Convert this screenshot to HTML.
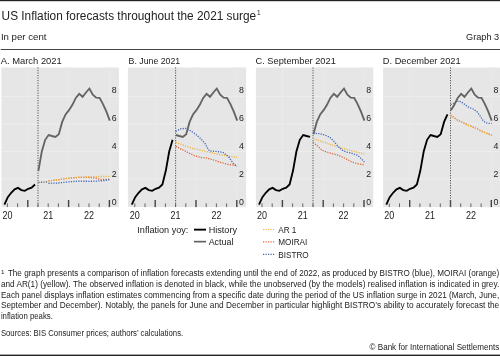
<!DOCTYPE html>
<html><head><meta charset="utf-8"><style>
html,body{margin:0;padding:0;background:#fff;width:500px;height:356px;overflow:hidden}
svg{display:block;font-family:"Liberation Sans", sans-serif;will-change:transform}
</style></head><body>
<svg width="500" height="356" viewBox="0 0 500 356">
<defs><clipPath id="c0"><rect x="1.4" y="67.5" width="117.5" height="139.6"/></clipPath><clipPath id="c1"><rect x="127.9" y="67.5" width="118.2" height="139.6"/></clipPath><clipPath id="c2"><rect x="255.9" y="67.5" width="117.4" height="139.6"/></clipPath><clipPath id="c3"><rect x="383.1" y="67.5" width="117.9" height="139.6"/></clipPath></defs>
<rect x="0" y="0" width="500" height="1.2" fill="#222"/>
<rect x="0.7" y="49" width="499.3" height="1" fill="#444"/>
<rect x="0" y="354.6" width="500" height="1.4" fill="#222"/>
<text x="1.60" y="20.30" font-size="12" fill="#222" textLength="254.60" lengthAdjust="spacingAndGlyphs">US Inflation forecasts throughout the 2021 surge</text>
<text x="256.90" y="14.80" font-size="6.4" fill="#222">1</text>
<text x="0.90" y="39.90" font-size="9.8" fill="#222" textLength="45.60" lengthAdjust="spacingAndGlyphs">In per cent</text>
<text x="499.20" y="40.00" font-size="9.5" fill="#222" text-anchor="end" textLength="33.20" lengthAdjust="spacingAndGlyphs">Graph 3</text>
<text x="0.70" y="63.60" font-size="9.9" fill="#222" textLength="61.10" lengthAdjust="spacingAndGlyphs">A. March 2021</text>
<g clip-path="url(#c0)">
<rect x="1.4" y="67.5" width="117.5" height="139.6" fill="#e6e6e6"/>
<rect x="1.4" y="178.50" width="117.5" height="1" fill="#ededed"/>
<rect x="1.4" y="151.00" width="117.5" height="1" fill="#ededed"/>
<rect x="1.4" y="123.50" width="117.5" height="1" fill="#ededed"/>
<rect x="1.4" y="96.00" width="117.5" height="1" fill="#ededed"/>
<rect x="27.30" y="67.5" width="1" height="139.6" fill="#eaeaea"/>
<rect x="68.10" y="67.5" width="1" height="139.6" fill="#eaeaea"/>
<rect x="108.90" y="67.5" width="1" height="139.6" fill="#eaeaea"/>
<rect x="-3.30" y="203.4" width="1" height="3.7" fill="#666"/>
<rect x="6.90" y="203.4" width="1" height="3.7" fill="#666"/>
<rect x="17.10" y="203.4" width="1" height="3.7" fill="#666"/>
<rect x="27.10" y="200" width="1.4" height="7.1" fill="#444"/>
<rect x="37.50" y="203.4" width="1" height="3.7" fill="#666"/>
<rect x="47.70" y="203.4" width="1" height="3.7" fill="#666"/>
<rect x="57.90" y="203.4" width="1" height="3.7" fill="#666"/>
<rect x="67.90" y="200" width="1.4" height="7.1" fill="#444"/>
<rect x="78.30" y="203.4" width="1" height="3.7" fill="#666"/>
<rect x="88.50" y="203.4" width="1" height="3.7" fill="#666"/>
<rect x="98.70" y="203.4" width="1" height="3.7" fill="#666"/>
<rect x="108.70" y="200" width="1.4" height="7.1" fill="#444"/>
<text x="111.70" y="204.50" font-size="9.5" fill="#222" textLength="4.90" lengthAdjust="spacingAndGlyphs">0</text>
<text x="111.70" y="176.64" font-size="9.5" fill="#222" textLength="4.90" lengthAdjust="spacingAndGlyphs">2</text>
<text x="111.70" y="148.78" font-size="9.5" fill="#222" textLength="4.90" lengthAdjust="spacingAndGlyphs">4</text>
<text x="111.70" y="120.92" font-size="9.5" fill="#222" textLength="4.90" lengthAdjust="spacingAndGlyphs">6</text>
<text x="111.70" y="93.06" font-size="9.5" fill="#222" textLength="4.90" lengthAdjust="spacingAndGlyphs">8</text>
<line x1="38.00" y1="67.5" x2="38.00" y2="207.1" stroke="#555" stroke-width="1" stroke-dasharray="1.2 1.3"/>
<polyline points="4.4,204.6 7.8,197.2 11.2,192.8 14.6,189.4 18.0,187.9 21.4,190.1 24.8,190.8 28.2,188.8 31.6,187.7 35.0,184.5" fill="none" stroke="#000" stroke-width="1.85" stroke-linejoin="miter"/>
<polyline points="38.4,170.8 41.8,151.5 45.2,139.8 48.6,135.0 52.0,136.0 55.4,136.9 58.8,134.2 62.2,121.9 65.6,114.4 69.0,110.2 72.4,104.8 75.8,97.9 79.2,93.8 82.6,96.8 86.0,92.5 89.4,88.5 92.8,94.7 96.2,97.6 99.6,97.9 103.0,104.1 106.4,111.6 109.8,120.6" fill="none" stroke="#646464" stroke-width="1.85" stroke-linejoin="miter"/>
<line x1="38.4" y1="182.4" x2="48.4" y2="181.8" stroke="#5a5a5a" stroke-width="1.3" stroke-dasharray="1.2 1.3"/>
<polyline points="48.4,180.8 58.4,179.7 65.6,178.6 72.8,177.9 80.0,177.3 90.0,177.5 96.0,178.2 101.2,179.5 109.8,179.3" fill="none" stroke="#df6434" stroke-width="1.3" stroke-dasharray="1.2 1.3"/>
<polyline points="48.4,180.8 58.4,179.7 65.6,178.6 72.8,177.9 80.0,177.2 90.0,176.7 100.0,176.5 109.8,176.4" fill="none" stroke="#efb23a" stroke-width="1.3" stroke-dasharray="1.2 1.3"/>
<polyline points="48.4,183.3 58.4,183.0 65.6,182.2 72.8,181.5 80.0,181.2 90.4,181.3 97.6,181.0 104.8,180.6 109.8,179.5" fill="none" stroke="#3f64b2" stroke-width="1.3" stroke-dasharray="1.2 1.3"/>
</g>
<text x="7.40" y="219.10" font-size="10.4" fill="#222" text-anchor="middle" textLength="10.00" lengthAdjust="spacingAndGlyphs">20</text>
<text x="48.20" y="219.10" font-size="10.4" fill="#222" text-anchor="middle" textLength="10.00" lengthAdjust="spacingAndGlyphs">21</text>
<text x="89.00" y="219.10" font-size="10.4" fill="#222" text-anchor="middle" textLength="10.00" lengthAdjust="spacingAndGlyphs">22</text>
<text x="128.60" y="63.60" font-size="9.9" fill="#222" textLength="51.60" lengthAdjust="spacingAndGlyphs">B. June 2021</text>
<g clip-path="url(#c1)">
<rect x="127.9" y="67.5" width="118.2" height="139.6" fill="#e6e6e6"/>
<rect x="127.9" y="178.50" width="118.2" height="1" fill="#ededed"/>
<rect x="127.9" y="151.00" width="118.2" height="1" fill="#ededed"/>
<rect x="127.9" y="123.50" width="118.2" height="1" fill="#ededed"/>
<rect x="127.9" y="96.00" width="118.2" height="1" fill="#ededed"/>
<rect x="154.70" y="67.5" width="1" height="139.6" fill="#eaeaea"/>
<rect x="195.50" y="67.5" width="1" height="139.6" fill="#eaeaea"/>
<rect x="236.30" y="67.5" width="1" height="139.6" fill="#eaeaea"/>
<rect x="124.10" y="203.4" width="1" height="3.7" fill="#666"/>
<rect x="134.30" y="203.4" width="1" height="3.7" fill="#666"/>
<rect x="144.50" y="203.4" width="1" height="3.7" fill="#666"/>
<rect x="154.50" y="200" width="1.4" height="7.1" fill="#444"/>
<rect x="164.90" y="203.4" width="1" height="3.7" fill="#666"/>
<rect x="175.10" y="203.4" width="1" height="3.7" fill="#666"/>
<rect x="185.30" y="203.4" width="1" height="3.7" fill="#666"/>
<rect x="195.30" y="200" width="1.4" height="7.1" fill="#444"/>
<rect x="205.70" y="203.4" width="1" height="3.7" fill="#666"/>
<rect x="215.90" y="203.4" width="1" height="3.7" fill="#666"/>
<rect x="226.10" y="203.4" width="1" height="3.7" fill="#666"/>
<rect x="236.10" y="200" width="1.4" height="7.1" fill="#444"/>
<text x="239.10" y="204.50" font-size="9.5" fill="#222" textLength="4.90" lengthAdjust="spacingAndGlyphs">0</text>
<text x="239.10" y="176.64" font-size="9.5" fill="#222" textLength="4.90" lengthAdjust="spacingAndGlyphs">2</text>
<text x="239.10" y="148.78" font-size="9.5" fill="#222" textLength="4.90" lengthAdjust="spacingAndGlyphs">4</text>
<text x="239.10" y="120.92" font-size="9.5" fill="#222" textLength="4.90" lengthAdjust="spacingAndGlyphs">6</text>
<text x="239.10" y="93.06" font-size="9.5" fill="#222" textLength="4.90" lengthAdjust="spacingAndGlyphs">8</text>
<line x1="175.60" y1="67.5" x2="175.60" y2="207.1" stroke="#555" stroke-width="1" stroke-dasharray="1.2 1.3"/>
<polyline points="131.8,204.6 135.2,197.2 138.6,192.8 142.0,189.4 145.4,187.9 148.8,190.1 152.2,190.8 155.6,188.8 159.0,187.7 162.4,184.5 165.8,170.8 169.2,151.5 172.6,139.8" fill="none" stroke="#000" stroke-width="1.85" stroke-linejoin="miter"/>
<polyline points="176.0,135.0 179.4,136.0 182.8,136.9 186.2,134.2 189.6,121.9 193.0,114.4 196.4,110.2 199.8,104.8 203.2,97.9 206.6,93.8 210.0,96.8 213.4,92.5 216.8,88.5 220.2,94.7 223.6,97.6 227.0,97.9 230.4,104.1 233.8,111.6 237.2,120.6" fill="none" stroke="#646464" stroke-width="1.85" stroke-linejoin="miter"/>
<polyline points="175.7,146.3 180.8,148.9 187.6,152.3 194.4,155.7 201.2,157.5 206.7,158.0 213.3,159.9 220.6,162.4 227.9,164.3 237.1,165.6" fill="none" stroke="#df6434" stroke-width="1.3" stroke-dasharray="1.2 1.3"/>
<polyline points="175.7,142.2 184.2,145.5 194.4,148.9 206.7,151.6 220.6,154.8 237.1,157.4" fill="none" stroke="#efb23a" stroke-width="1.3" stroke-dasharray="1.2 1.3"/>
<polyline points="175.7,131.3 180.8,128.8 185.8,128.3 189.2,130.0 195.1,133.8 201.0,138.9 205.2,143.9 207.8,148.5 209.6,151.0 217.0,151.5 222.8,152.2 225.7,154.4 229.4,157.7 231.5,161.0 233.7,163.9 237.1,166.5" fill="none" stroke="#3f64b2" stroke-width="1.3" stroke-dasharray="1.2 1.3"/>
</g>
<text x="134.80" y="219.10" font-size="10.4" fill="#222" text-anchor="middle" textLength="10.00" lengthAdjust="spacingAndGlyphs">20</text>
<text x="175.60" y="219.10" font-size="10.4" fill="#222" text-anchor="middle" textLength="10.00" lengthAdjust="spacingAndGlyphs">21</text>
<text x="216.40" y="219.10" font-size="10.4" fill="#222" text-anchor="middle" textLength="10.00" lengthAdjust="spacingAndGlyphs">22</text>
<text x="255.50" y="63.60" font-size="9.9" fill="#222" textLength="80.30" lengthAdjust="spacingAndGlyphs">C. September 2021</text>
<g clip-path="url(#c2)">
<rect x="255.9" y="67.5" width="117.4" height="139.6" fill="#e6e6e6"/>
<rect x="255.9" y="178.50" width="117.4" height="1" fill="#ededed"/>
<rect x="255.9" y="151.00" width="117.4" height="1" fill="#ededed"/>
<rect x="255.9" y="123.50" width="117.4" height="1" fill="#ededed"/>
<rect x="255.9" y="96.00" width="117.4" height="1" fill="#ededed"/>
<rect x="281.90" y="67.5" width="1" height="139.6" fill="#eaeaea"/>
<rect x="322.70" y="67.5" width="1" height="139.6" fill="#eaeaea"/>
<rect x="363.50" y="67.5" width="1" height="139.6" fill="#eaeaea"/>
<rect x="251.30" y="203.4" width="1" height="3.7" fill="#666"/>
<rect x="261.50" y="203.4" width="1" height="3.7" fill="#666"/>
<rect x="271.70" y="203.4" width="1" height="3.7" fill="#666"/>
<rect x="281.70" y="200" width="1.4" height="7.1" fill="#444"/>
<rect x="292.10" y="203.4" width="1" height="3.7" fill="#666"/>
<rect x="302.30" y="203.4" width="1" height="3.7" fill="#666"/>
<rect x="312.50" y="203.4" width="1" height="3.7" fill="#666"/>
<rect x="322.50" y="200" width="1.4" height="7.1" fill="#444"/>
<rect x="332.90" y="203.4" width="1" height="3.7" fill="#666"/>
<rect x="343.10" y="203.4" width="1" height="3.7" fill="#666"/>
<rect x="353.30" y="203.4" width="1" height="3.7" fill="#666"/>
<rect x="363.30" y="200" width="1.4" height="7.1" fill="#444"/>
<text x="366.30" y="204.50" font-size="9.5" fill="#222" textLength="4.90" lengthAdjust="spacingAndGlyphs">0</text>
<text x="366.30" y="176.64" font-size="9.5" fill="#222" textLength="4.90" lengthAdjust="spacingAndGlyphs">2</text>
<text x="366.30" y="148.78" font-size="9.5" fill="#222" textLength="4.90" lengthAdjust="spacingAndGlyphs">4</text>
<text x="366.30" y="120.92" font-size="9.5" fill="#222" textLength="4.90" lengthAdjust="spacingAndGlyphs">6</text>
<text x="366.30" y="93.06" font-size="9.5" fill="#222" textLength="4.90" lengthAdjust="spacingAndGlyphs">8</text>
<line x1="313.00" y1="67.5" x2="313.00" y2="207.1" stroke="#555" stroke-width="1" stroke-dasharray="1.2 1.3"/>
<polyline points="259.0,204.6 262.4,197.2 265.8,192.8 269.2,189.4 272.6,187.9 276.0,190.1 279.4,190.8 282.8,188.8 286.2,187.7 289.6,184.5 293.0,170.8 296.4,151.5 299.8,139.8 303.2,135.0 306.6,136.0 310.0,136.9" fill="none" stroke="#000" stroke-width="1.85" stroke-linejoin="miter"/>
<polyline points="313.4,134.2 316.8,121.9 320.2,114.4 323.6,110.2 327.0,104.8 330.4,97.9 333.8,93.8 337.2,96.8 340.6,92.5 344.0,88.5 347.4,94.7 350.8,97.6 354.2,97.9 357.6,104.1 361.0,111.6 364.4,120.6" fill="none" stroke="#646464" stroke-width="1.85" stroke-linejoin="miter"/>
<polyline points="313.2,142.3 317.7,146.1 321.6,150.0 326.3,151.9 331.1,153.3 338.7,155.4 345.7,158.6 351.5,161.8 357.2,163.7 364.4,164.8" fill="none" stroke="#df6434" stroke-width="1.3" stroke-dasharray="1.2 1.3"/>
<polyline points="313.2,138.5 321.6,141.4 331.1,144.7 340.7,147.8 349.6,150.3 359.1,152.7 364.4,153.8" fill="none" stroke="#efb23a" stroke-width="1.3" stroke-dasharray="1.2 1.3"/>
<polyline points="313.2,133.3 319.6,133.7 325.4,135.2 330.1,137.6 334.0,141.4 337.8,146.1 342.6,150.4 345.7,151.8 351.5,153.2 357.2,155.1 361.0,158.4 364.4,162.0" fill="none" stroke="#3f64b2" stroke-width="1.3" stroke-dasharray="1.2 1.3"/>
</g>
<text x="262.00" y="219.10" font-size="10.4" fill="#222" text-anchor="middle" textLength="10.00" lengthAdjust="spacingAndGlyphs">20</text>
<text x="302.80" y="219.10" font-size="10.4" fill="#222" text-anchor="middle" textLength="10.00" lengthAdjust="spacingAndGlyphs">21</text>
<text x="343.60" y="219.10" font-size="10.4" fill="#222" text-anchor="middle" textLength="10.00" lengthAdjust="spacingAndGlyphs">22</text>
<text x="382.80" y="63.60" font-size="9.9" fill="#222" textLength="77.90" lengthAdjust="spacingAndGlyphs">D. December 2021</text>
<g clip-path="url(#c3)">
<rect x="383.1" y="67.5" width="117.9" height="139.6" fill="#e6e6e6"/>
<rect x="383.1" y="178.50" width="117.9" height="1" fill="#ededed"/>
<rect x="383.1" y="151.00" width="117.9" height="1" fill="#ededed"/>
<rect x="383.1" y="123.50" width="117.9" height="1" fill="#ededed"/>
<rect x="383.1" y="96.00" width="117.9" height="1" fill="#ededed"/>
<rect x="409.20" y="67.5" width="1" height="139.6" fill="#eaeaea"/>
<rect x="450.00" y="67.5" width="1" height="139.6" fill="#eaeaea"/>
<rect x="490.80" y="67.5" width="1" height="139.6" fill="#eaeaea"/>
<rect x="378.60" y="203.4" width="1" height="3.7" fill="#666"/>
<rect x="388.80" y="203.4" width="1" height="3.7" fill="#666"/>
<rect x="399.00" y="203.4" width="1" height="3.7" fill="#666"/>
<rect x="409.00" y="200" width="1.4" height="7.1" fill="#444"/>
<rect x="419.40" y="203.4" width="1" height="3.7" fill="#666"/>
<rect x="429.60" y="203.4" width="1" height="3.7" fill="#666"/>
<rect x="439.80" y="203.4" width="1" height="3.7" fill="#666"/>
<rect x="449.80" y="200" width="1.4" height="7.1" fill="#444"/>
<rect x="460.20" y="203.4" width="1" height="3.7" fill="#666"/>
<rect x="470.40" y="203.4" width="1" height="3.7" fill="#666"/>
<rect x="480.60" y="203.4" width="1" height="3.7" fill="#666"/>
<rect x="490.60" y="200" width="1.4" height="7.1" fill="#444"/>
<text x="493.60" y="204.50" font-size="9.5" fill="#222" textLength="4.90" lengthAdjust="spacingAndGlyphs">0</text>
<text x="493.60" y="176.64" font-size="9.5" fill="#222" textLength="4.90" lengthAdjust="spacingAndGlyphs">2</text>
<text x="493.60" y="148.78" font-size="9.5" fill="#222" textLength="4.90" lengthAdjust="spacingAndGlyphs">4</text>
<text x="493.60" y="120.92" font-size="9.5" fill="#222" textLength="4.90" lengthAdjust="spacingAndGlyphs">6</text>
<text x="493.60" y="93.06" font-size="9.5" fill="#222" textLength="4.90" lengthAdjust="spacingAndGlyphs">8</text>
<line x1="450.50" y1="67.5" x2="450.50" y2="207.1" stroke="#555" stroke-width="1" stroke-dasharray="1.2 1.3"/>
<polyline points="386.3,204.6 389.7,197.2 393.1,192.8 396.5,189.4 399.9,187.9 403.3,190.1 406.7,190.8 410.1,188.8 413.5,187.7 416.9,184.5 420.3,170.8 423.7,151.5 427.1,139.8 430.5,135.0 433.9,136.0 437.3,136.9 440.7,134.2 444.1,121.9 447.5,114.4" fill="none" stroke="#000" stroke-width="1.85" stroke-linejoin="miter"/>
<polyline points="450.9,110.2 454.3,104.8 457.7,97.9 461.1,93.8 464.5,96.8 467.9,92.5 471.3,88.5 474.7,94.7 478.1,97.6 481.5,97.9 484.9,104.1 488.3,111.6 491.7,120.6" fill="none" stroke="#646464" stroke-width="1.85" stroke-linejoin="miter"/>
<polyline points="450.6,115.2 457.8,120.2 467.7,124.9 474.4,127.5 482.9,131.7 491.7,135.2" fill="none" stroke="#df6434" stroke-width="1.3" stroke-dasharray="1.2 1.3"/>
<polyline points="450.6,115.4 457.8,120.6 467.7,125.3 474.4,127.9 482.9,132.1 491.7,135.6" fill="none" stroke="#efb23a" stroke-width="1.3" stroke-dasharray="1.2 1.3"/>
<polyline points="450.6,104.8 453.9,102.9 458.8,100.9 462.7,102.9 467.7,106.8 473.6,109.2 477.5,112.3 480.5,116.5 482.5,119.8 485.6,122.7 489.3,123.4 491.7,123.5" fill="none" stroke="#3f64b2" stroke-width="1.3" stroke-dasharray="1.2 1.3"/>
</g>
<text x="389.30" y="219.10" font-size="10.4" fill="#222" text-anchor="middle" textLength="10.00" lengthAdjust="spacingAndGlyphs">20</text>
<text x="430.10" y="219.10" font-size="10.4" fill="#222" text-anchor="middle" textLength="10.00" lengthAdjust="spacingAndGlyphs">21</text>
<text x="470.90" y="219.10" font-size="10.4" fill="#222" text-anchor="middle" textLength="10.00" lengthAdjust="spacingAndGlyphs">22</text>
<text x="137.3" y="233" font-size="9.1" fill="#222">Inflation yoy:</text>
<rect x="194" y="228.7" width="12" height="1.9" fill="#000"/>
<text x="208.7" y="233.1" font-size="9.1" fill="#222">History</text>
<rect x="194" y="240.8" width="12" height="1.7" fill="#646464"/>
<text x="208.7" y="245.2" font-size="8.9" fill="#222">Actual</text>
<line x1="263" y1="229.5" x2="275.5" y2="229.5" stroke="#efb23a" stroke-width="1.2" stroke-dasharray="1.2 1.3"/>
<text x="278.2" y="232.8" font-size="8.2" fill="#222">AR 1</text>
<line x1="263" y1="241.9" x2="275.5" y2="241.9" stroke="#df6434" stroke-width="1.2" stroke-dasharray="1.2 1.3"/>
<text x="278.2" y="245.2" font-size="8.2" fill="#222">MOIRAI</text>
<line x1="263" y1="254.3" x2="275.5" y2="254.3" stroke="#3f64b2" stroke-width="1.2" stroke-dasharray="1.2 1.3"/>
<text x="278.2" y="257.6" font-size="8.2" fill="#222">BISTRO</text>
<text x="1.00" y="273.70" font-size="6.2" fill="#222">1</text>
<text x="7.90" y="275.90" font-size="8.4" fill="#222" textLength="491.30" lengthAdjust="spacingAndGlyphs">The graph presents a comparison of inflation forecasts extending until the end of 2022, as produced by BISTRO (blue), MOIRAI (orange)</text>
<text x="0.90" y="286.70" font-size="8.4" fill="#222" textLength="498.30" lengthAdjust="spacingAndGlyphs">and AR(1) (yellow). The observed inflation is denoted in black, while the unobserved (by the models) realised inflation is indicated in grey.</text>
<text x="0.90" y="297.50" font-size="8.4" fill="#222" textLength="498.30" lengthAdjust="spacingAndGlyphs">Each panel displays inflation estimates commencing from a specific date during the period of the US inflation surge in 2021 (March, June,</text>
<text x="0.90" y="308.20" font-size="8.4" fill="#222" textLength="498.30" lengthAdjust="spacingAndGlyphs">September and December). Notably, the panels for June and December in particular highlight BISTRO’s ability to accurately forecast the</text>
<text x="0.90" y="318.90" font-size="8.4" fill="#222" textLength="52.00" lengthAdjust="spacingAndGlyphs">inflation peaks.</text>
<text x="0.90" y="336.20" font-size="8.4" fill="#222" textLength="182.30" lengthAdjust="spacingAndGlyphs">Sources: BIS Consumer prices; authors’ calculations.</text>
<text x="499.20" y="349.50" font-size="8.6" fill="#222" text-anchor="end" textLength="129.60" lengthAdjust="spacingAndGlyphs">© Bank for International Settlements</text>
</svg>
</body></html>
